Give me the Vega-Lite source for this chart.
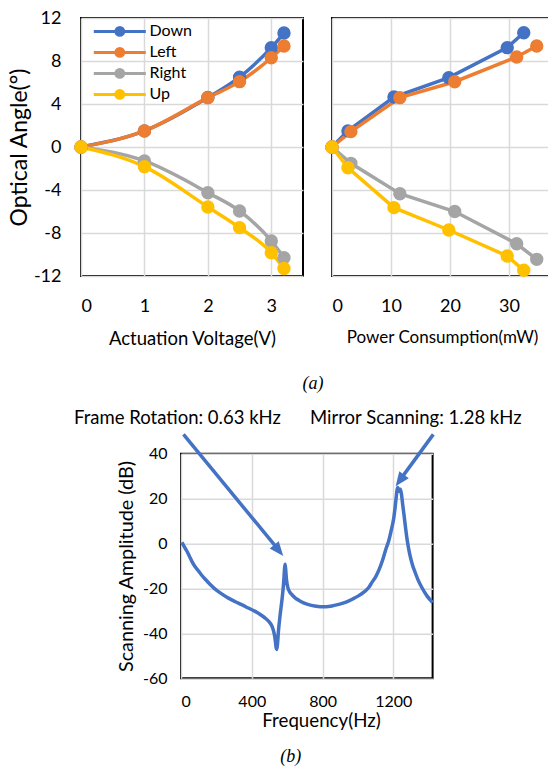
{
  "$schema": "https://vega.github.io/schema/vega-lite/v6.json",
  "padding": {"left": 7, "top": 8, "right": 0, "bottom": 0},
  "background": "white",
  "config": {
    "font": "Lato",
    "view": {"stroke": "black", "strokeWidth": 2},
    "axis": {"grid": true, "gridColor": "#d9d9d9", "gridWidth": 1.5, "domain": false, "ticks": false, "tickSize": 0, "labelColor": "black", "titleColor": "black", "titleFontWeight": "normal", "labelFont": "Lato", "titleFont": "Lato"},
    "legend": {"orient": "none", "legendX": 30.8, "legendY": 5.4, "title": null, "symbolType": "M-4,0L4,0M0.6,0A0.6,0.6,0,1,1,-0.6,0A0.6,0.6,0,1,1,0.6,0Z", "symbolSize": 169, "symbolStrokeWidth": 3, "symbolOpacity": 1, "labelFontSize": 16, "labelOffset": 21.7, "rowPadding": 1, "padding": 0, "labelColor": "black", "labelFont": "Lato"}
  },
  "datasets": {
    "voltage": [
      {"direction": "Down", "voltage": 0, "angle": 0},
      {"direction": "Down", "voltage": 1, "angle": 1.5},
      {"direction": "Down", "voltage": 2, "angle": 4.6},
      {"direction": "Down", "voltage": 2.5, "angle": 6.5},
      {"direction": "Down", "voltage": 3, "angle": 9.24},
      {"direction": "Down", "voltage": 3.2, "angle": 10.6},
      {"direction": "Left", "voltage": 0, "angle": 0},
      {"direction": "Left", "voltage": 1, "angle": 1.49},
      {"direction": "Left", "voltage": 2, "angle": 4.59},
      {"direction": "Left", "voltage": 2.5, "angle": 6.08},
      {"direction": "Left", "voltage": 3, "angle": 8.3},
      {"direction": "Left", "voltage": 3.2, "angle": 9.4},
      {"direction": "Right", "voltage": 0, "angle": 0},
      {"direction": "Right", "voltage": 1, "angle": -1.3},
      {"direction": "Right", "voltage": 2, "angle": -4.25},
      {"direction": "Right", "voltage": 2.5, "angle": -5.95},
      {"direction": "Right", "voltage": 3, "angle": -8.74},
      {"direction": "Right", "voltage": 3.2, "angle": -10.3},
      {"direction": "Up", "voltage": 0, "angle": 0},
      {"direction": "Up", "voltage": 1, "angle": -1.83},
      {"direction": "Up", "voltage": 2, "angle": -5.58},
      {"direction": "Up", "voltage": 2.5, "angle": -7.5},
      {"direction": "Up", "voltage": 3, "angle": -9.83},
      {"direction": "Up", "voltage": 3.2, "angle": -11.3}
    ],
    "power": [
      {"direction": "Down", "power": 0, "angle": 0},
      {"direction": "Down", "power": 2.7, "angle": 1.5},
      {"direction": "Down", "power": 10.5, "angle": 4.65},
      {"direction": "Down", "power": 19.8, "angle": 6.45},
      {"direction": "Down", "power": 29.7, "angle": 9.24},
      {"direction": "Down", "power": 32.5, "angle": 10.63},
      {"direction": "Left", "power": 0, "angle": 0},
      {"direction": "Left", "power": 3.2, "angle": 1.43},
      {"direction": "Left", "power": 11.5, "angle": 4.59},
      {"direction": "Left", "power": 20.8, "angle": 6.07},
      {"direction": "Left", "power": 31.3, "angle": 8.37},
      {"direction": "Left", "power": 34.7, "angle": 9.4},
      {"direction": "Right", "power": 0, "angle": 0},
      {"direction": "Right", "power": 3.2, "angle": -1.52},
      {"direction": "Right", "power": 11.5, "angle": -4.35},
      {"direction": "Right", "power": 20.8, "angle": -6.0},
      {"direction": "Right", "power": 31.3, "angle": -9.0},
      {"direction": "Right", "power": 34.7, "angle": -10.45},
      {"direction": "Up", "power": 0, "angle": 0},
      {"direction": "Up", "power": 2.7, "angle": -1.93},
      {"direction": "Up", "power": 10.5, "angle": -5.64},
      {"direction": "Up", "power": 19.8, "angle": -7.72},
      {"direction": "Up", "power": 29.7, "angle": -10.14},
      {"direction": "Up", "power": 32.5, "angle": -11.47}
    ],
    "response": [
      {"freq": 5, "amp": 0.5}, {"freq": 20, "amp": -1.6}, {"freq": 32, "amp": -3.2}, {"freq": 46, "amp": -5.4},
      {"freq": 60, "amp": -7.7}, {"freq": 78, "amp": -10.1}, {"freq": 98, "amp": -12.1}, {"freq": 116, "amp": -14},
      {"freq": 136, "amp": -15.8}, {"freq": 165, "amp": -18.2}, {"freq": 193, "amp": -20.3}, {"freq": 230, "amp": -22.4},
      {"freq": 268, "amp": -24.3}, {"freq": 305, "amp": -25.8}, {"freq": 343, "amp": -27.2}, {"freq": 380, "amp": -28.7},
      {"freq": 419, "amp": -30.2}, {"freq": 450, "amp": -31.7}, {"freq": 476, "amp": -33.2}, {"freq": 496, "amp": -34.7},
      {"freq": 513, "amp": -36.6}, {"freq": 522, "amp": -38.6}, {"freq": 529, "amp": -41}, {"freq": 534, "amp": -44},
      {"freq": 538, "amp": -46.5}, {"freq": 541, "amp": -47.2}, {"freq": 545, "amp": -45}, {"freq": 551, "amp": -38.8},
      {"freq": 560, "amp": -32}, {"freq": 570, "amp": -25.5}, {"freq": 580, "amp": -17.5}, {"freq": 585, "amp": -11.5},
      {"freq": 588, "amp": -9.2}, {"freq": 591, "amp": -11}, {"freq": 596, "amp": -16}, {"freq": 604, "amp": -19.6},
      {"freq": 615, "amp": -21.6}, {"freq": 627, "amp": -22.8}, {"freq": 645, "amp": -24.2}, {"freq": 665, "amp": -25.2},
      {"freq": 690, "amp": -26.3}, {"freq": 721, "amp": -27.2}, {"freq": 755, "amp": -27.8}, {"freq": 788, "amp": -28.1},
      {"freq": 820, "amp": -28.1}, {"freq": 853, "amp": -27.8}, {"freq": 890, "amp": -27.1}, {"freq": 929, "amp": -26.2},
      {"freq": 968, "amp": -24.8}, {"freq": 1005, "amp": -23.2}, {"freq": 1035, "amp": -21.5}, {"freq": 1061, "amp": -19.6},
      {"freq": 1080, "amp": -17.2}, {"freq": 1100, "amp": -14.8}, {"freq": 1120, "amp": -11.5}, {"freq": 1140, "amp": -7.2},
      {"freq": 1160, "amp": -2}, {"freq": 1175, "amp": 1.5}, {"freq": 1190, "amp": 6.5}, {"freq": 1203, "amp": 11.6},
      {"freq": 1210, "amp": 16}, {"freq": 1216, "amp": 20.4}, {"freq": 1221, "amp": 23.8}, {"freq": 1225, "amp": 25},
      {"freq": 1230, "amp": 24}, {"freq": 1235, "amp": 23.2}, {"freq": 1240, "amp": 24.2}, {"freq": 1246, "amp": 22},
      {"freq": 1252, "amp": 18}, {"freq": 1260, "amp": 13}, {"freq": 1270, "amp": 6.5}, {"freq": 1279, "amp": 1.2},
      {"freq": 1292, "amp": -4.5}, {"freq": 1307, "amp": -9.2}, {"freq": 1324, "amp": -13}, {"freq": 1341, "amp": -16.4},
      {"freq": 1362, "amp": -19.7}, {"freq": 1390, "amp": -23.3}, {"freq": 1410, "amp": -25.2}, {"freq": 1422, "amp": -26.3}
    ],
    "arrows": [
      {"id": "frame", "freq": 14, "amp": 48.6, "freq2": 557, "amp2": -3.4},
      {"id": "mirror", "freq": 1426, "amp": 48.6, "freq2": 1233, "amp2": 27.8}
    ],
    "heads": [
      {"id": "frame", "freq": 578, "amp": -5.5},
      {"id": "mirror", "freq": 1213, "amp": 25.5}
    ],
    "annotations": [
      {"label": "Frame Rotation: 0.63 kHz", "freq": -20, "amp": 56},
      {"label": "Mirror Scanning: 1.28 kHz", "freq": 1327, "amp": 56}
    ]
  },
  "columns": 1,
  "align": "none",
  "spacing": 14.7,
  "concat": [
    {
      "title": {"text": "(a)", "orient": "bottom", "anchor": "start", "align": "center", "dx": 305, "offset": 26, "font": "Liberation Serif", "fontStyle": "italic", "fontSize": 18, "fontWeight": "normal", "color": "black"},
      "spacing": 17,
      "resolve": {"scale": {"fill": "independent", "stroke": "independent"}},
      "hconcat": [
        {
          "width": 222,
          "height": 258,
          "data": {"name": "voltage"},
          "encoding": {
            "x": {"field": "voltage", "type": "quantitative", "scale": {"domain": [0, 3.5], "nice": false}, "axis": {"values": [0, 1, 2, 3], "title": "Actuation Voltage(V)", "labelFontSize": 18, "labelPadding": 21, "titleFontSize": 18.5, "titlePadding": 14}},
            "y": {"field": "angle", "type": "quantitative", "scale": {"domain": [-12, 12], "nice": false}, "axis": {"values": [-12, -8, -4, 0, 4, 8, 12], "labelExpr": "datum.value < 0 ? '-' + abs(datum.value) : '' + datum.value", "title": "Optical Angle(°)", "labelFontSize": 18, "labelPadding": 20, "titleFontSize": 23, "titlePadding": 1.5}}
          },
          "layer": [
            {"mark": {"type": "line", "interpolate": "monotone", "strokeWidth": 3.5},
              "encoding": {"stroke": {"field": "direction", "type": "nominal", "scale": {"domain": ["Down", "Left", "Right", "Up"], "range": ["#4472C4", "#ED7D31", "#A5A5A5", "#FFC000"]}}}},
            {"mark": {"type": "point", "filled": true, "size": 130, "opacity": 1},
              "encoding": {
                "stroke": {"field": "direction", "type": "nominal", "scale": {"domain": ["Down", "Left", "Right", "Up"], "range": ["#4472C4", "#ED7D31", "#A5A5A5", "#FFC000"]}},
                "fill": {"field": "direction", "type": "nominal", "scale": {"domain": ["Down", "Left", "Right", "Up"], "range": ["#4472C4", "#ED7D31", "#A5A5A5", "#FFC000"]}}}}
          ]
        },
        {
          "width": 236,
          "height": 258,
          "data": {"name": "power"},
          "encoding": {
            "x": {"field": "power", "type": "quantitative", "scale": {"domain": [0, 40], "nice": false}, "axis": {"values": [0, 10, 20, 30], "title": "Power Consumption(mW)", "titleX": 110, "labelFontSize": 18, "labelPadding": 21, "titleFontSize": 17, "titlePadding": 14.5}},
            "y": {"field": "angle", "type": "quantitative", "scale": {"domain": [-12, 12], "nice": false}, "axis": {"values": [-12, -8, -4, 0, 4, 8, 12], "labels": false, "title": null}}
          },
          "layer": [
            {"mark": {"type": "line", "strokeWidth": 3.5},
              "encoding": {"stroke": {"field": "direction", "type": "nominal", "legend": null, "scale": {"domain": ["Down", "Left", "Right", "Up"], "range": ["#4472C4", "#ED7D31", "#A5A5A5", "#FFC000"]}}}},
            {"mark": {"type": "point", "filled": true, "size": 130, "opacity": 1},
              "encoding": {
                "stroke": {"field": "direction", "type": "nominal", "legend": null, "scale": {"domain": ["Down", "Left", "Right", "Up"], "range": ["#4472C4", "#ED7D31", "#A5A5A5", "#FFC000"]}},
                "fill": {"field": "direction", "type": "nominal", "legend": null, "scale": {"domain": ["Down", "Left", "Right", "Up"], "range": ["#4472C4", "#ED7D31", "#A5A5A5", "#FFC000"]}}}}
          ]
        }
      ]
    },
    {
      "spacing": -9,
      "hconcat": [
        {
          "width": 1,
          "height": 1,
          "view": {"stroke": null},
          "data": {"values": []},
          "mark": "point"
        },
        {
          "width": 251.6,
          "height": 224.6,
          "title": {"text": "(b)", "orient": "bottom", "anchor": "middle", "frame": "group", "dx": -16, "offset": 18, "font": "Liberation Serif", "fontStyle": "italic", "fontSize": 18, "fontWeight": "normal", "color": "black"},
          "encoding": {
            "x": {"field": "freq", "type": "quantitative", "scale": {"domain": [0, 1422], "nice": false}, "axis": {"values": [0, 400, 800, 1200], "format": "d", "title": "Frequency(Hz)", "titleX": 140, "labelFontSize": 16, "labelPadding": 15, "titleFontSize": 18.7, "titlePadding": 2}},
            "y": {"field": "amp", "type": "quantitative", "scale": {"domain": [-60, 40], "nice": false}, "axis": {"values": [-60, -40, -20, 0, 20, 40], "labelExpr": "datum.value < 0 ? '-' + abs(datum.value) : '' + datum.value", "title": "Scanning Amplitude (dB)", "labelFontSize": 16, "labelPadding": 14, "titleFontSize": 19.8, "titlePadding": 5.5}}
          },
          "layer": [
            {"data": {"name": "response"}, "mark": {"type": "line", "color": "#4472C4", "strokeWidth": 3.5, "interpolate": "monotone"}},
            {"data": {"name": "arrows"}, "mark": {"type": "rule", "color": "#4472C4", "strokeWidth": 3.5},
              "encoding": {"x2": {"field": "freq2"}, "y2": {"field": "amp2"}}},
            {"data": {"name": "heads"}, "transform": [{"filter": "datum.id === 'frame'"}],
              "mark": {"type": "point", "shape": "M0,0L-0.9,2.2L0.9,2.2Z", "size": 169, "angle": 140.6, "filled": true, "color": "#4472C4", "opacity": 1}},
            {"data": {"name": "heads"}, "transform": [{"filter": "datum.id === 'mirror'"}],
              "mark": {"type": "point", "shape": "M0,0L-0.9,2.2L0.9,2.2Z", "size": 169, "angle": 216.1, "filled": true, "color": "#4472C4", "opacity": 1}},
            {"data": {"name": "annotations"}, "mark": {"type": "text", "fontSize": 18.5, "font": "Lato", "color": "black"},
              "encoding": {"text": {"field": "label"}}}
          ]
        }
      ]
    }
  ]
}
